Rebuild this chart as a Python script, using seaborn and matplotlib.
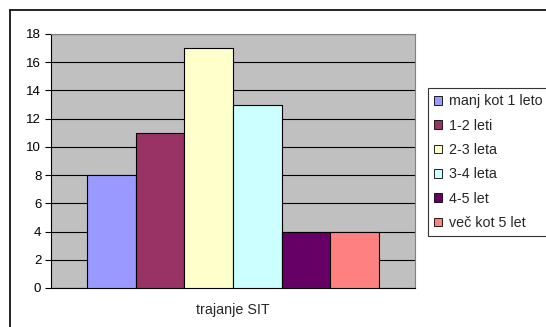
import matplotlib
matplotlib.use("Agg")
import matplotlib.pyplot as plt
import seaborn as sns
import pandas as pd
from matplotlib.lines import Line2D
from matplotlib.patches import Patch

categories = ["manj kot 1 leto", "1-2 leti", "2-3 leta", "3-4 leta", "4-5 let", "več kot 5 let"]
values = [8, 11, 17, 13, 4, 4]
group_label = ["trajanje SIT"]
colors = ["#9999FF", "#993366", "#FFFFCC", "#CCFFFF", "#660066", "#FF8080"]
yticks = [0, 2, 4, 6, 8, 10, 12, 14, 16, 18]

sns.set_style("white")
plt.rcParams['font.family'] = ['Liberation Sans', 'DejaVu Sans']

df = pd.DataFrame({"grp": group_label * len(categories), "cat": categories, "val": values})

W, H = 546, 327
fig = plt.figure(figsize=(W / 100, H / 100), dpi=100)
ax = fig.add_axes([51 / W, 1 - 288 / H, (415 - 51) / W, (288 - 34) / H])
ax.set_facecolor("#C0C0C0")

sns.barplot(data=df, x="grp", y="val", hue="cat", hue_order=categories,
            palette=colors, saturation=1, edgecolor="black", linewidth=0.8, width=0.8,
            ax=ax, legend=False, zorder=3)

ax.set_ylim(0, 18)
ax.set_yticks(yticks)
ax.set_yticklabels([str(t) for t in yticks], fontsize=9.5)
ax.yaxis.grid(True, color="black", linewidth=0.8, zorder=1)
ax.set_axisbelow(True)
ax.tick_params(axis="y", direction="out", length=4, width=0.8, left=True, pad=3, colors="black")
ax.tick_params(axis="x", length=0, labelsize=10.3, pad=11)
ax.set_xlabel("")
ax.set_ylabel("")
for s in ["top", "right"]:
    ax.spines[s].set_color("#808080")
    ax.spines[s].set_linewidth(0.8)
ax.spines["left"].set_color("black")
ax.spines["bottom"].set_color("black")
ax.spines["left"].set_linewidth(0.8)
ax.spines["bottom"].set_linewidth(0.8)

handles = [Patch(facecolor=c, edgecolor="black", linewidth=0.6) for c in colors]
leg = fig.legend(handles, categories, loc="upper left",
                 bbox_to_anchor=(428 / W, 1 - 88 / H), fontsize=10.3,
                 frameon=True, fancybox=False, shadow=False,
                 handlelength=0.55, handleheight=0.55, handletextpad=0.45,
                 labelspacing=0.72, borderpad=0.45, borderaxespad=0)
leg.get_frame().set_edgecolor("black")
leg.get_frame().set_linewidth(0.8)

# outer chart frame (partially visible)
fig.add_artist(Line2D([10 / W, 10 / W], [0, 1 - 10 / H], color="black", linewidth=1.2, transform=fig.transFigure))
fig.add_artist(Line2D([10 / W, 1], [1 - 10 / H, 1 - 10 / H], color="black", linewidth=1.2, transform=fig.transFigure))

fig.savefig("out.png", dpi=100)
